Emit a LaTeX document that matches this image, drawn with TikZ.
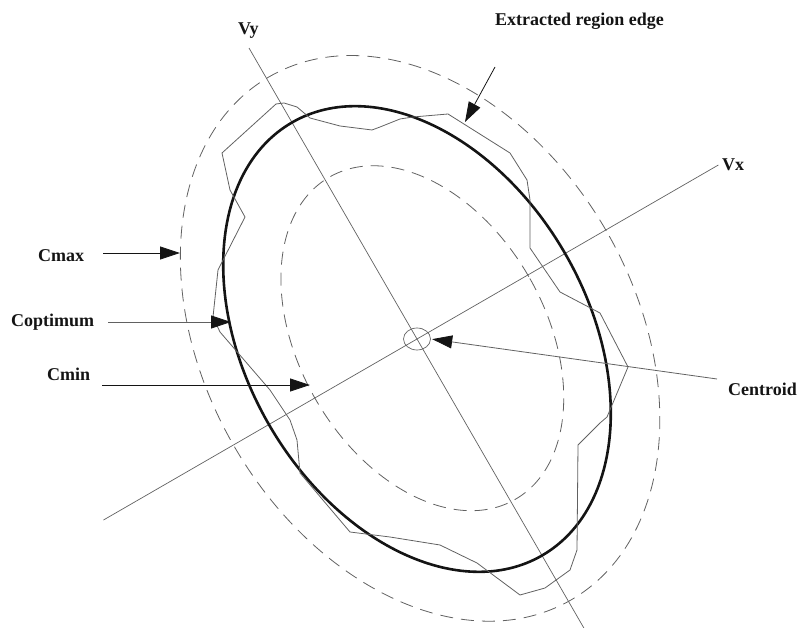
\documentclass[tikz,border=0pt]{standalone}
\usepackage{fontspec}
\setmainfont{Liberation Serif}
\usepackage{tikz}
\usetikzlibrary{arrows.meta,calc}
\definecolor{rgink}{rgb}{0.08,0.08,0.08}
\definecolor{rggray}{rgb}{0.38,0.38,0.38}

\begin{document}
\begin{tikzpicture}[
  x=1pt, y=1pt,
  font=\fontsize{18}{20}\selectfont\bfseries,
  lbl/.style={anchor=base west, inner sep=0pt, text=rgink},
  axisline/.style={draw=rggray, line width=0.7pt},
  regionline/.style={draw=rggray, line width=0.8pt, line join=round},
  cdash/.style={draw=rggray, line width=0.8pt, dash pattern=on 13pt off 8pt},
  copt/.style={draw=rgink, line width=2.6pt},
  arr/.style={-{Triangle[length=20pt,width=13pt,color=rgink]}, rgink, line width=0.8pt},
  optarr/.style={arr, rggray}
]
\useasboundingbox (0,0) rectangle (800,627);

\coordinate (c) at (417,288);

% axes
\draw[axisline] ($(c)+(120:336)$) coordinate (vytop) -- ($(c)+(-60:336)$);
\draw[axisline] ($(c)+(210:362)$) -- ($(c)+(30:348)$) coordinate (vxend);

% fitted contours
\draw[cdash, rotate around={30:(c)}] ($(c)+(3,-1)$) ellipse [x radius=215pt, y radius=302pt];
\draw[cdash, rotate around={30:(c)}] ($(c)+(5,-2)$) ellipse [x radius=123pt, y radius=186pt];
\draw[copt, rotate around={30:(c)}] (c) ellipse [x radius=171pt, y radius=250pt];

% extracted region edge
\draw[regionline] (276,523) -- (284,524) -- (297,520) -- (310,509) -- (340,501) -- (372,497)
  -- (380,500) -- (400,508) -- (413,510) -- (448,513) -- (510,474) -- (527,447)
  -- (530,427) -- (530,379) -- (560,335) -- (600,314) -- (628,260) -- (607,210)
  -- (600,204) -- (578,182) -- (577,77) -- (570,57) -- (545,39) -- (520,32)
  -- (477,64) -- (440,82) -- (390,90) -- (350,95) -- (300,154) -- (297,187)
  -- (290,207) -- (270,237) -- (220,295) -- (213,310) -- (218,357) -- (245,410)
  -- (230,437) -- (222,474) -- cycle;

% centroid
\draw[axisline] (c) ellipse [x radius=13.5pt, y radius=11pt];
\node (cen) at (c) [minimum width=28pt, minimum height=22pt, inner sep=0pt] {};

% labels
\node[lbl] (vy) at (238,592) {Vy};
\node[lbl] (vx) at (722,456) {Vx};
\node[lbl] (edge) at (495,601) {Extracted region edge};
\node[lbl] (cmax) at (38,365) {Cmax};
\node[lbl] (copt) at (11,300) {Coptimum};
\node[lbl] (cmin) at (47,247) {Cmin};
\node[lbl] (centroid) at (728,232) {Centroid};

% arrows
\coordinate (edgetail) at (495,560);
\coordinate (edgetip) at (465,505);
\coordinate (cmaxtail) at (103,374);
\coordinate (cmaxtip) at (180,374);
\coordinate (copttail) at (108,305);
\coordinate (copttip) at (231,305);
\coordinate (cmintail) at (102,242);
\coordinate (cmintip) at (310,242);
\coordinate (centail) at (717,248);

\draw[arr] (edgetail) -- (edgetip);
\draw[arr] (cmaxtail) -- (cmaxtip);
\draw[optarr] (copttail) -- (copttip);
\draw[arr] (cmintail) -- (cmintip);
\draw[optarr, shorten >=1pt] (centail) -- (cen.east);
\end{tikzpicture}
\end{document}
